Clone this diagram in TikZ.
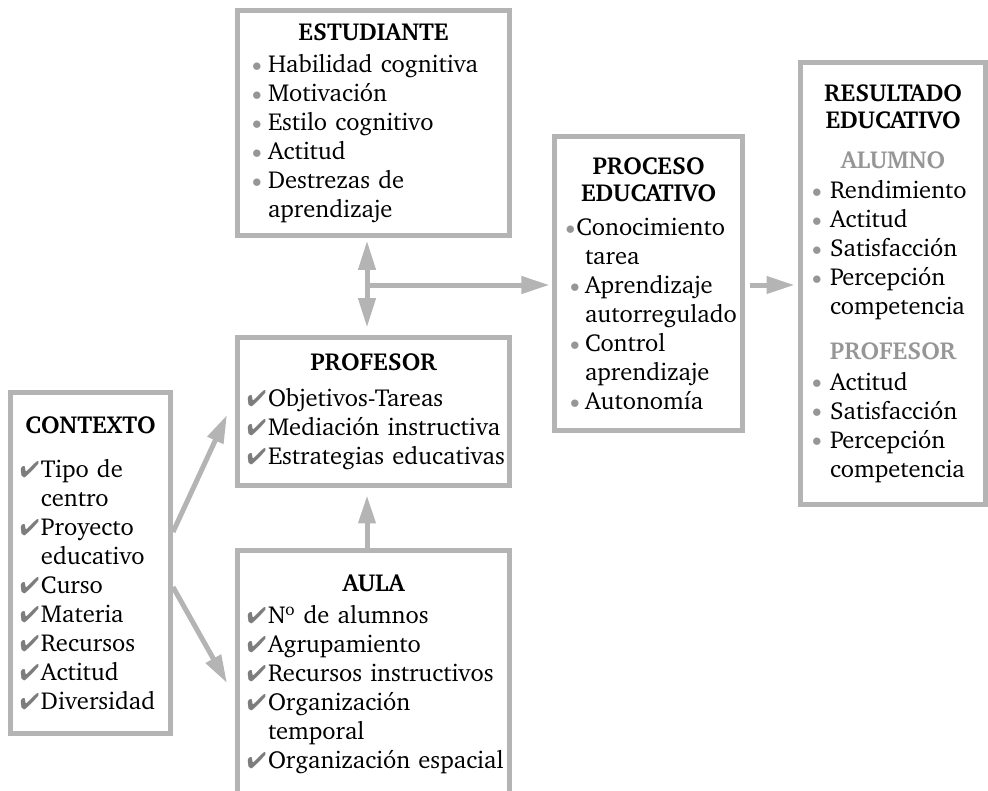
\documentclass[tikz,border=0pt]{standalone}
\usepackage[T1]{fontenc}
\usepackage{charter}
\usepackage{pifont}
\usetikzlibrary{arrows.meta}
\definecolor{boxgray}{RGB}{180,180,180}
\definecolor{bulgray}{RGB}{150,150,150}
\definecolor{chkgray}{RGB}{125,125,125}
\definecolor{subgray}{RGB}{150,150,150}
\newcommand\Ln[1]{\makebox[\linewidth][l]{#1}}
\newcommand\dotb{\raisebox{0.8pt}{\textcolor{bulgray}{\fontsize{14.5pt}{14.5pt}\selectfont$\bullet$}}}
\newcommand\bu{\makebox[12pt][l]{\dotb}}
\newcommand\bur{\makebox[13.5pt][l]{\dotb}}
\newcommand\bup{\hspace*{2.25pt}\makebox[11.25pt][l]{\dotb}}
\newcommand\ck{\makebox[15.75pt][l]{\textcolor{chkgray}{\fontsize{17pt}{17pt}\selectfont\ding{52}}}}
\tikzset{
  box/.style={draw=boxgray, line width=3.75pt, fill=white, inner sep=0pt,
    align=center, font=\fontsize{18.4pt}{21.75pt}\selectfont},
  arr/.style={draw=boxgray, line width=3.75pt,
    -{Triangle[length=21pt,width=12.5pt]}},
  darr/.style={draw=boxgray, line width=3.75pt,
    {Triangle[length=22pt,width=12.5pt]}-{Triangle[length=22pt,width=12.5pt]}},
}
\begin{document}
\begin{tikzpicture}[x=0.75pt,y=-0.75pt]
\useasboundingbox (0,0) rectangle (988,790);

% ESTUDIANTE
\node[box, minimum width=204pt, minimum height=168.75pt, text width=182.25pt] (est) at (373.5,123) {%
\textbf{ESTUDIANTE}\\[2.5pt]
\Ln{\bu Habilidad cognitiva}\\
\Ln{\bu Motivaci\'on}\\
\Ln{\bu Estilo cognitivo}\\
\Ln{\bu Actitud}\\
\Ln{\bu Destrezas de}\\
\Ln{\hspace*{12pt}aprendizaje}};

% PROFESOR
\node[box, minimum width=204pt, minimum height=111pt, text width=189.75pt] (prof) at (373.5,411.5) {%
\textbf{PROFESOR}\\[5pt]
\Ln{\ck Objetivos-Tareas}\\
\Ln{\ck Mediaci\'on instructiva}\\
\Ln{\ck Estrategias educativas}};

% AULA
\node[box, minimum width=204pt, minimum height=185.25pt, text width=189.75pt] (aula) at (373.5,674) {%
\textbf{AULA}\\[2.5pt]
\Ln{\ck N\textsuperscript{o} de alumnos}\\
\Ln{\ck Agrupamiento}\\
\Ln{\ck Recursos instructivos}\\
\Ln{\ck Organizaci\'on}\\
\Ln{\hspace*{15.75pt}temporal}\\
\Ln{\ck Organizaci\'on espacial}};

% CONTEXTO
\node[box, minimum width=120pt, minimum height=255.75pt, text width=105.75pt] (ctx) at (90.5,563) {%
\textbf{CONTEXTO}\\[11pt]
\Ln{\ck Tipo de}\\
\Ln{\hspace*{15.75pt}centro}\\
\Ln{\ck Proyecto}\\
\Ln{\hspace*{15.75pt}educativo}\\
\Ln{\ck Curso}\\
\Ln{\ck Materia}\\
\Ln{\ck Recursos}\\
\Ln{\ck Actitud}\\
\Ln{\ck Diversidad}};

% PROCESO EDUCATIVO
\node[box, minimum width=141pt, minimum height=220.5pt, text width=122.25pt] (proc) at (648.5,283.5) {%
\textbf{PROCESO}\\[-1.5pt]
\textbf{EDUCATIVO}\\[4pt]
\Ln{\makebox[7pt][l]{\hspace*{-1pt}\dotb}Conocimiento}\\
\Ln{\hspace*{13.5pt}tarea}\\
\Ln{\bup Aprendizaje}\\
\Ln{\hspace*{13.5pt}autorregulado}\\
\Ln{\bup Control}\\
\Ln{\hspace*{13.5pt}aprendizaje}\\
\Ln{\bup Autonom\'{\i}a}};

% RESULTADO EDUCATIVO
\node[box, minimum width=138.75pt, minimum height=331.5pt, text width=121.5pt] (res) at (893,283.5) {%
\textbf{RESULTADO}\\[-1.5pt]
\textbf{EDUCATIVO}\\[8pt]
\textcolor{subgray}{\textbf{ALUMNO}}\\[1pt]
\Ln{\bur Rendimiento}\\
\Ln{\bur Actitud}\\
\Ln{\bur Satisfacci\'on}\\
\Ln{\bur Percepci\'on}\\
\Ln{\hspace*{13.5pt}competencia}\\[12pt]
\textcolor{subgray}{\textbf{PROFESOR}}\\[1pt]
\Ln{\bur Actitud}\\
\Ln{\bur Satisfacci\'on}\\
\Ln{\bur Percepci\'on}\\
\Ln{\hspace*{13.5pt}competencia}};

% connectors
\coordinate (dv) at (367,285);
\draw[darr, shorten <=1.9pt, shorten >=5.6pt] (dv |- est.south) -- (dv |- prof.north);
\draw[arr, shorten >=1.9pt] (dv) -- (dv -| proc.west);
\draw[arr, shorten <=4pt, shorten >=2.6pt] (proc.east |- dv) -- (res.west |- dv);
\draw[arr, shorten >=5.6pt] (dv |- aula.north) -- (dv |- prof.south);
\coordinate (ctxup) at (227,415);
\coordinate (ctxdn) at (227,683);
\draw[arr] (ctx.east |- 0,532) -- (ctxup);
\draw[arr] (ctx.east |- 0,587) -- (ctxdn);
\end{tikzpicture}
\end{document}
